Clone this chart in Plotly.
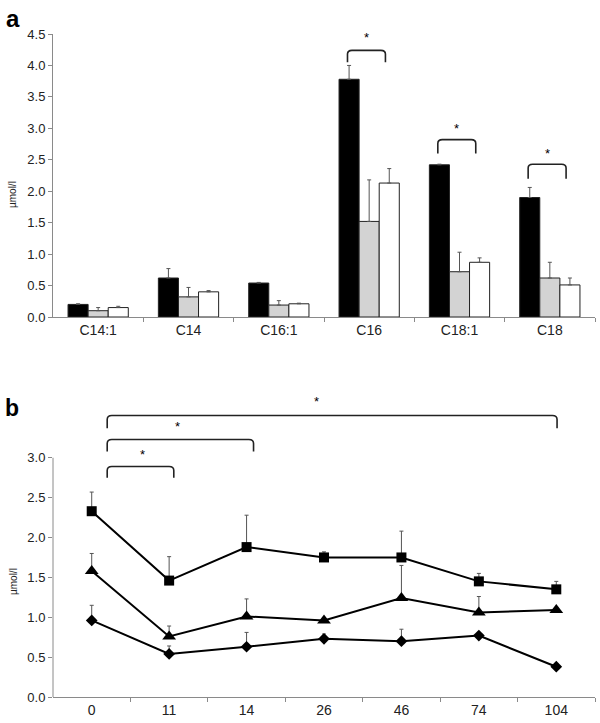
import plotly.graph_objects as go

# ---------- Panel a data ----------
acids = ["C14:1", "C14", "C16:1", "C16", "C18:1", "C18"]
grp1 = [0.20, 0.62, 0.54, 3.78, 2.42, 1.90]
grp1_err = [0.01, 0.15, 0.01, 0.22, 0.01, 0.16]
grp2 = [0.10, 0.32, 0.19, 1.52, 0.72, 0.62]
grp2_err = [0.05, 0.15, 0.07, 0.66, 0.31, 0.25]
grp3 = [0.15, 0.40, 0.21, 2.13, 0.87, 0.51]
grp3_err = [0.02, 0.02, 0.01, 0.23, 0.07, 0.11]
a_ticks = [0.0, 0.5, 1.0, 1.5, 2.0, 2.5, 3.0, 3.5, 4.0, 4.5]
# brackets: (category index, bottom y, top y, star y)
a_brackets = [(3, 4.05, 4.24, 4.44), (4, 2.60, 2.82, 3.00), (5, 2.20, 2.43, 2.60)]

# ---------- Panel b data ----------
weeks = ["0", "11", "14", "26", "46", "74", "104"]
sq = [2.33, 1.46, 1.88, 1.75, 1.75, 1.45, 1.35]
sq_err = [0.24, 0.30, 0.40, 0.07, 0.33, 0.10, 0.10]
tri = [1.58, 0.76, 1.01, 0.96, 1.24, 1.06, 1.09]
tri_err = [0.22, 0.13, 0.22, 0.0, 0.41, 0.20, 0.0]
dia = [0.96, 0.54, 0.63, 0.73, 0.70, 0.77, 0.38]
dia_err = [0.19, 0.10, 0.18, 0.06, 0.15, 0.0, 0.0]
b_ticks = [0.0, 0.5, 1.0, 1.5, 2.0, 2.5, 3.0]
# brackets: (x start, x end, bottom y, top y, star x, star y)
b_brackets = [(0.2, 1.06, 2.75, 2.89, 0.66, 3.04),
              (0.2, 2.09, 3.08, 3.23, 1.11, 3.39),
              (0.2, 6.01, 3.37, 3.53, 2.90, 3.70)]

FONT = "Liberation Sans, Arial, sans-serif"
AX = "#8a8a8a"
ERR = "#555555"
W, H, L, R = 600, 723, 53, 5
PW = W - L - R

fig = go.Figure()
xa = list(range(len(acids)))
for vals, err, col in [(grp1, grp1_err, "#000000"), (grp2, grp2_err, "#d3d3d3"), (grp3, grp3_err, "#ffffff")]:
    fig.add_trace(go.Bar(
        x=xa, y=vals, marker=dict(color=col, line=dict(color="#222222", width=1)),
        error_y=dict(type="data", symmetric=False, array=err, arrayminus=[0]*len(err),
                     color=ERR, thickness=1, width=2),
        xaxis="x", yaxis="y", showlegend=False))

xb = list(range(len(weeks)))
for vals, err, sym, size in [(sq, sq_err, "square", 10), (tri, tri_err, "triangle-up", 12), (dia, dia_err, "diamond", 9)]:
    fig.add_trace(go.Scatter(
        x=xb, y=vals, mode="lines+markers",
        line=dict(color="#000000", width=2),
        marker=dict(symbol=sym, size=size, color="#000000"),
        error_y=dict(type="data", symmetric=False, array=err, arrayminus=[0]*len(err),
                     color=ERR, thickness=1, width=2),
        xaxis="x2", yaxis="y2", showlegend=False, cliponaxis=False))

shapes = []
annotations = []
for ci, yb, yt, ys in a_brackets:
    x0, x1 = ci - 0.24, ci + 0.18
    dx, dy = 0.05, 0.06
    shapes.append(dict(type="path", xref="x", yref="y",
                       path=f"M {x0},{yb} L {x0},{yt-dy} Q {x0},{yt} {x0+dx},{yt} L {x1-dx},{yt} Q {x1},{yt} {x1},{yt-dy} L {x1},{yb}",
                       line=dict(color="#222222", width=1.6)))
    annotations.append(dict(x=ci - 0.03, y=ys, xref="x", yref="y", text="*", showarrow=False,
                            font=dict(size=13, color="#000", family=FONT)))
for x0, x1, yb, yt, sx, sy in b_brackets:
    dx, dy = 0.06, 0.05
    shapes.append(dict(type="path", xref="x2", yref="y2",
                       path=f"M {x0},{yb} L {x0},{yt-dy} Q {x0},{yt} {x0+dx},{yt} L {x1-dx},{yt} Q {x1},{yt} {x1},{yt-dy} L {x1},{yb}",
                       line=dict(color="#222222", width=1.6)))
    annotations.append(dict(x=sx, y=sy, xref="x2", yref="y2", text="*", showarrow=False,
                            font=dict(size=13, color="#000", family=FONT)))

# y axis line for panel b (only up to 3.0)
shapes.append(dict(type="line", xref="x2 domain", yref="y2", x0=0, x1=0, y0=0, y1=3.0,
                   line=dict(color=AX, width=1)))

def px_x(px):
    return (px - L) / PW

def px_y(py):
    return 1 - py / H

annotations.append(dict(x=px_x(4), y=px_y(3), xref="paper", yref="paper", text="<b>a</b>",
                        showarrow=False, xanchor="left", yanchor="top",
                        font=dict(size=24, color="#000", family=FONT)))
annotations.append(dict(x=px_x(3), y=px_y(393), xref="paper", yref="paper", text="<b>b</b>",
                        showarrow=False, xanchor="left", yanchor="top",
                        font=dict(size=23, color="#000", family=FONT)))
for yc in (195, 582):
    annotations.append(dict(x=px_x(13), y=px_y(yc), xref="paper", yref="paper", text="µmol/l",
                            showarrow=False, textangle=-90, xanchor="center", yanchor="middle",
                            font=dict(size=10, color="#222", family=FONT)))

xfont = dict(size=14, color="#222222", family=FONT)
yfont = dict(size=13, color="#222222", family=FONT)
fig.update_layout(
    width=W, height=H,
    margin=dict(l=L, r=R, t=0, b=0),
    paper_bgcolor="white", plot_bgcolor="white",
    barmode="group", bargap=0.333, bargroupgap=0,
    font=dict(family=FONT, color="#222222"),
    shapes=shapes, annotations=annotations,
    xaxis=dict(domain=[0, 1], range=[-0.5, 5.5], tickvals=xa, ticktext=acids, ticks="",
               showline=True, linecolor=AX, linewidth=1, showgrid=False, zeroline=False,
               tickfont=xfont, anchor="y", automargin=False,
               minor=dict(tickvals=[0.5, 1.5, 2.5, 3.5, 4.5, 5.5], ticks="outside", ticklen=4, tickcolor=AX)),
    yaxis=dict(domain=[px_y(317), px_y(34)], range=[0, 4.5], tickvals=a_ticks,
               tickformat=".1f", ticks="outside", ticklen=4, tickcolor=AX,
               showline=True, linecolor=AX, linewidth=1, showgrid=False, zeroline=False,
               tickfont=yfont, anchor="x", automargin=False),
    xaxis2=dict(domain=[0, 1], range=[-0.5, 6.5], tickvals=xb, ticktext=weeks, ticks="",
                showline=True, linecolor=AX, linewidth=1, showgrid=False, zeroline=False,
                tickfont=xfont, anchor="y2", automargin=False,
                minor=dict(tickvals=[0.5, 1.5, 2.5, 3.5, 4.5, 5.5, 6.5], ticks="outside", ticklen=4, tickcolor=AX)),
    yaxis2=dict(domain=[px_y(697), px_y(390)], range=[0, 3.85], tickvals=b_ticks,
                tickformat=".1f", ticks="outside", ticklen=4, tickcolor=AX,
                showline=False, showgrid=False, zeroline=False,
                tickfont=yfont, anchor="x2", automargin=False),
)

fig.write_html("out.html", config={"displayModeBar": False},
               post_script="document.body.style.margin='0';document.body.style.overflow='hidden';")
